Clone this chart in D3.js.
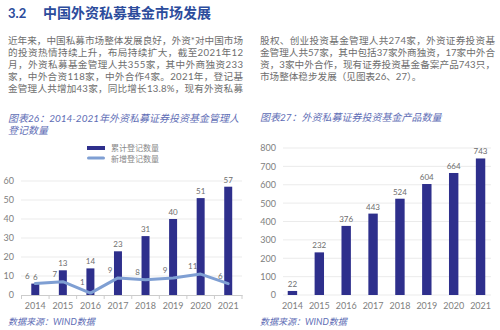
<!DOCTYPE html>
<html><head><meta charset="utf-8">
<script src="https://cdn.jsdelivr.net/npm/d3@7"></script>
<style>
body{margin:0;background:#fff;}
svg{display:block;font-family:Lato,"Noto Sans CJK SC",sans-serif;}
</style></head>
<body><svg id="c" width="500" height="330"></svg>
<script>
const years = ["2014","2015","2016","2017","2018","2019","2020","2021"];
const cumulative = [6,13,14,23,31,40,51,57];
const newAdded = [6,7,1,9,8,9,11,6];
const products = [22,232,376,443,524,604,664,743];
const leftTicks = [0,10,20,30,40,50,60];
const rightTicks = [0,100,200,300,400,500,600,700,800];
const legendLabels = ["累计登记数量","新增登记数量"];
const headNum = "3.2";
const headTitle = "中国外资私募基金市场发展";
const leftPara = [
 "近年来，中国私募市场整体发展良好，外资*对中国市场",
 "的投资热情持续上升，布局持续扩大，截至2021年12",
 "月，外资私募基金管理人共355家，其中外商独资233",
 "家，中外合资118家，中外合作4家。2021年，登记基",
 "金管理人共增加43家，同比增长13.8%，现有外资私募"];
const rightPara = [
 "股权、创业投资基金管理人共274家，外资证券投资基",
 "金管理人共57家，其中包括37家外商独资，17家中外合",
 "资，3家中外合作，现有证券投资基金备案产品743只，",
 "市场整体稳步发展（见图表26、27）。"];
const title26 = ["图表26：2014-2021年外资私募证券投资基金管理人","登记数量"];
const title27 = "图表27：外资私募证券投资基金产品数量";
const source = "数据来源：WIND数据";

const BAR = "#2e2f8c", LINE = "#7f9fd3", GRID = "#e6e6e6", AX = "#808080", TXT = "#6e6e6e", TTL = "#5e6db5";
const svg = d3.select("#c");

// header
svg.append("text").attr("x",8).attr("y",18).attr("fill","#2c4c9c").attr("font-size",13).attr("font-weight",700).text(headNum);
svg.append("text").attr("x",43).attr("y",18).attr("fill","#2c4c9c").attr("font-size",14).attr("font-weight",700)
  .attr("font-family","'Noto Sans CJK SC',sans-serif").text(headTitle);

function para(lines, x, w, justifyLast){
  lines.forEach((l,i)=>{
    const t = svg.append("text").attr("x",x).attr("y",44+i*12).attr("fill",TXT).attr("font-size",9.6).text(l);
    if(i < lines.length-1 || justifyLast){ t.attr("textLength",w).attr("lengthAdjust","spacing"); }
  });
}
para(leftPara, 8, 235, true);
para(rightPara, 260, 235, false);

// titles
title26.forEach((t,i)=>svg.append("text").attr("x",8).attr("y",122+i*12).attr("fill",TTL).attr("font-size",10).attr("font-style","italic").text(t));
svg.append("text").attr("x",260).attr("y",121).attr("fill",TTL).attr("font-size",10).attr("font-style","italic").text(title27);
[8,260].forEach(x=>svg.append("text").attr("x",x).attr("y",325).attr("fill",TTL).attr("font-size",9).attr("font-style","italic").text(source));

// ---- left chart
const xL = d3.scaleBand().domain(years).range([21.5,242]).paddingInner(0.71).paddingOuter(0.355);
const yL = d3.scaleLinear().domain([0,60]).range([295,181]);
const gL = svg.append("g");
gL.selectAll(".gl").data(leftTicks.filter(d=>d>0)).join("line")
  .attr("x1",21).attr("x2",242).attr("y1",d=>yL(d)).attr("y2",d=>yL(d)).attr("stroke",GRID).attr("stroke-width",0.8);
const axL = gL.append("g").attr("transform","translate(14,0)").call(d3.axisLeft(yL).tickValues(leftTicks).tickSize(0).tickPadding(0));
axL.select(".domain").remove();
axL.selectAll("text").attr("fill",AX).attr("font-size",9).attr("font-family","Lato,sans-serif");
const xbL = d3.scaleBand().domain(years).range([21.5,242]);
const axLx = gL.append("g").attr("transform","translate(0,295)").call(d3.axisBottom(xbL).tickSize(0).tickPadding(8));
axLx.select(".domain").attr("stroke","#ccc");
axLx.selectAll("text").attr("fill",AX).attr("font-size",9).attr("font-family","Lato,sans-serif");
gL.selectAll(".tk").data(years.concat(["end"])).join("line")
  .attr("x1",(d,i)=>21.5+i*xbL.step()).attr("x2",(d,i)=>21.5+i*xbL.step()).attr("y1",295).attr("y2",299).attr("stroke","#ccc");
gL.selectAll(".bar").data(cumulative).join("rect")
  .attr("x",(d,i)=>xL(years[i])).attr("width",xL.bandwidth()).attr("y",d=>yL(d)).attr("height",d=>yL(0)-yL(d)).attr("fill",BAR);
gL.selectAll(".bl").data(cumulative).join("text")
  .attr("x",(d,i)=>xL(years[i])+xL.bandwidth()/2).attr("y",d=>yL(d)-4).attr("text-anchor","middle")
  .attr("fill",TXT).attr("font-size",8).text(d=>d);
const lineGen = d3.line().x((d,i)=>xbL(years[i])+xbL.bandwidth()/2).y(d=>yL(d));
gL.append("path").datum(newAdded).attr("d",lineGen).attr("fill","none").attr("stroke",LINE).attr("stroke-width",3).attr("stroke-linejoin","round").attr("stroke-linecap","round");
gL.selectAll(".ll").data(newAdded).join("text")
  .attr("x",(d,i)=>xbL(years[i])+xbL.bandwidth()/2-8).attr("y",d=>Math.min(yL(d)-5,285)).attr("text-anchor","middle")
  .attr("fill",TXT).attr("font-size",8).text(d=>d);
// legend
svg.append("rect").attr("x",87).attr("y",146).attr("width",18).attr("height",4).attr("fill",BAR);
svg.append("line").attr("x1",88.5).attr("x2",103.5).attr("y1",158).attr("y2",158).attr("stroke",LINE).attr("stroke-width",3).attr("stroke-linecap","round");
legendLabels.forEach((t,i)=>svg.append("text").attr("x",111).attr("y",151+i*10.5).attr("fill","#888").attr("font-size",8).text(t));

// ---- right chart
const xR = d3.scaleBand().domain(years).range([279,494]).paddingInner(0.65).paddingOuter(0.325);
const xbR = d3.scaleBand().domain(years).range([279,494]);
const yR = d3.scaleLinear().domain([0,800]).range([295,148]);
const gR = svg.append("g");
gR.selectAll(".gr").data(rightTicks).join("line")
  .attr("x1",283).attr("x2",491).attr("y1",d=>yR(d)).attr("y2",d=>yR(d)).attr("stroke",GRID).attr("stroke-width",0.8);
const axR = gR.append("g").attr("transform","translate(276,0)").call(d3.axisLeft(yR).tickValues(rightTicks).tickSize(0).tickPadding(0));
axR.select(".domain").remove();
axR.selectAll("text").attr("fill",AX).attr("font-size",9).attr("font-family","Lato,sans-serif");
const axRx = gR.append("g").attr("transform","translate(0,295)").call(d3.axisBottom(xbR).tickSize(0).tickPadding(8));
axRx.select(".domain").remove();
axRx.selectAll("text").attr("fill",AX).attr("font-size",9).attr("font-family","Lato,sans-serif");
gR.selectAll(".bar").data(products).join("rect")
  .attr("x",(d,i)=>xR(years[i])).attr("width",xR.bandwidth()).attr("y",d=>yR(d)).attr("height",d=>yR(0)-yR(d)).attr("fill",BAR);
gR.selectAll(".bl").data(products).join("text")
  .attr("x",(d,i)=>xR(years[i])+xR.bandwidth()/2).attr("y",d=>yR(d)-4).attr("text-anchor","middle")
  .attr("fill",TXT).attr("font-size",8).text(d=>d);
</script></body></html>
